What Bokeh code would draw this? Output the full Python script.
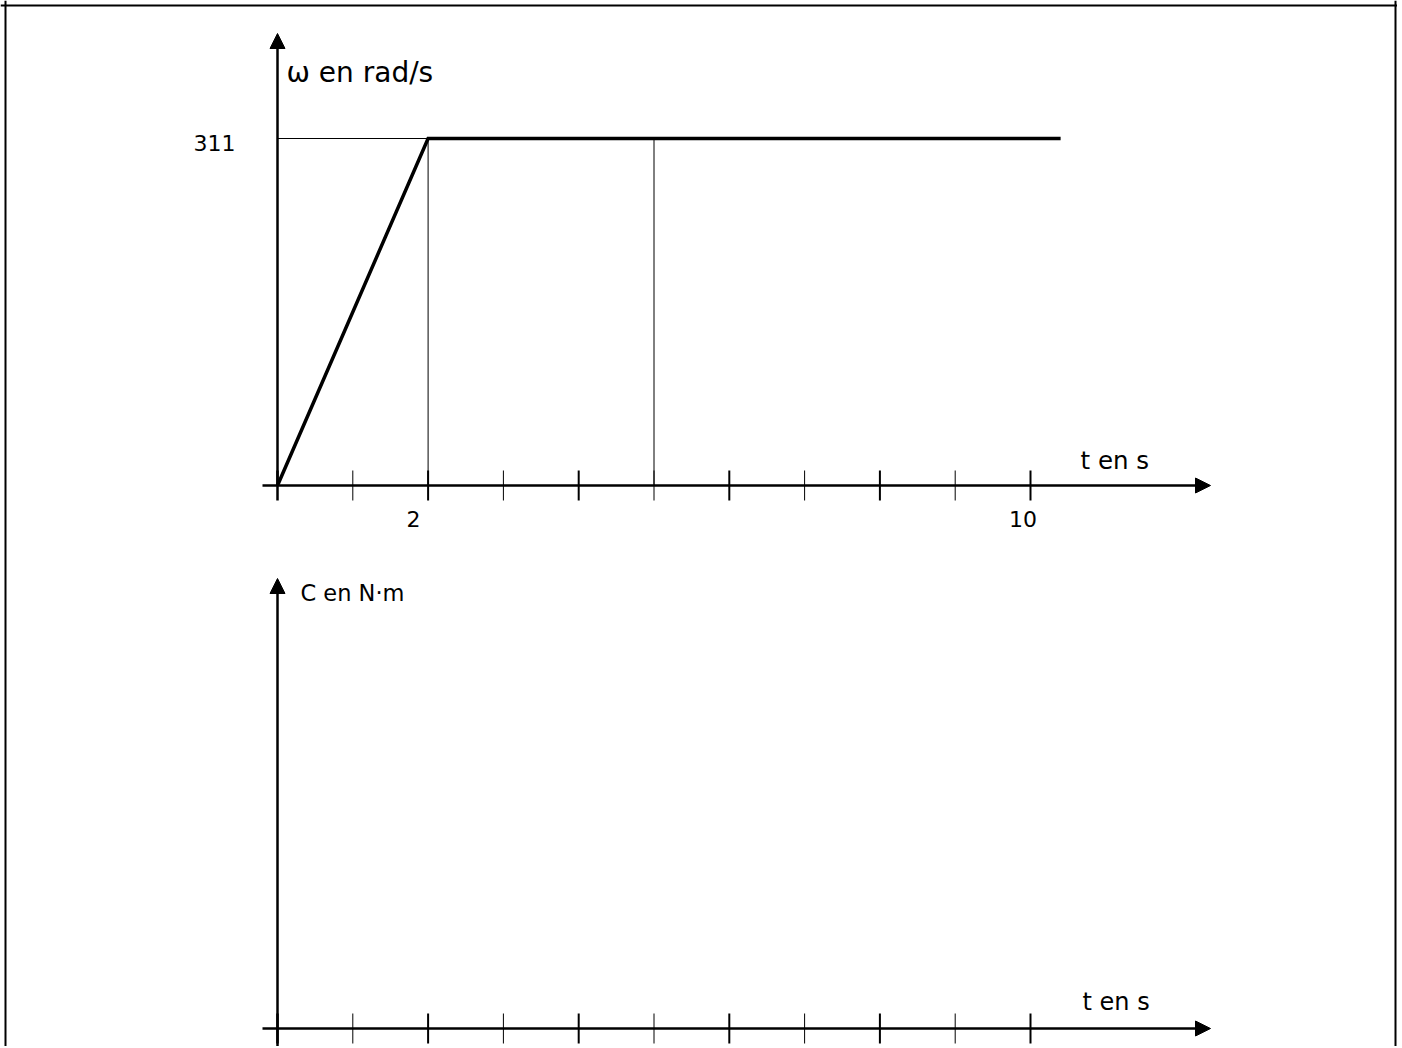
from bokeh.plotting import figure
from bokeh.models import Range1d, Arrow, NormalHead, Span
from bokeh.core.properties import value
from bokeh.embed import file_html
from bokeh.resources import INLINE

# ---------------- data ----------------
t_curve = [0, 2, 10.4]          # s
omega_curve = [0, 311, 311]     # rad/s
t_ticks = [0, 1, 2, 3, 4, 5, 6, 7, 8, 9, 10]
t_label_pos = [2, 10]
t_label_text = ["2", "10"]
omega_label_pos = [311]
omega_label_text = ["311"]
guide_t = [2, 5]                # thin vertical reference lines
t_axis_title = "t en s"
omega_axis_title = "ω en rad/s"
torque_axis_title = "C en N·m"

# ---------------- layout (page pixels) ----------------
W, H = 1397, 1046
M = 0
X0 = 277.0            # page x of t = 0
SX = 75.3             # px per second
Y0_TOP = 485.0        # page y of omega = 0
SY = 347.0 / 311.0    # px per rad/s
Y0_BOT = 1028.0       # page y of C = 0 (1 unit = 1 px)

def tx(px):
    return (px - X0) / SX

def wy(py):
    return (Y0_TOP - py) / SY

def cy(py):
    return Y0_BOT - py

FONT = value("DejaVu Sans")

p = figure(width=W, height=H,
           x_range=Range1d(tx(M), tx(M + W)),
           y_range=Range1d(wy(M + H), wy(M)),
           output_backend="svg", toolbar_location=None, tools="",
           min_border=0, x_axis_location=None, y_axis_location=None,
           outline_line_color=None, background_fill_color="white",
           border_fill_color="white")
p.extra_y_ranges = {"c": Range1d(cy(M + H), cy(M))}
p.xgrid.visible = False
p.ygrid.visible = False

# frame of the page (left, right, top)
p.add_layout(Span(location=tx(5), dimension="height", line_color="black", line_width=2))
p.add_layout(Span(location=tx(1395), dimension="height", line_color="black", line_width=2))
p.add_layout(Span(location=wy(5), dimension="width", line_color="black", line_width=2))

# ---------------- top chart: omega(t) ----------------
# thin guide lines
p.segment(x0=[0], y0=[omega_curve[1]], x1=[t_curve[1]], y1=[omega_curve[1]],
          line_color="black", line_width=1)
p.segment(x0=guide_t, y0=[0] * len(guide_t), x1=guide_t, y1=[omega_curve[1]] * len(guide_t),
          line_color="black", line_width=1)

# ticks
tick_w = [2.5 if t == 0 else (2 if t % 2 == 0 else 1) for t in t_ticks]
hw = 15 / SY
p.segment(x0=t_ticks, y0=[-hw] * len(t_ticks), x1=t_ticks, y1=[hw] * len(t_ticks),
          line_color="black", line_width=tick_w)

# axes with arrows
p.add_layout(Arrow(x_start=tx(262), y_start=0, x_end=tx(1210), y_end=0,
                   line_color="black", line_width=2.5,
                   end=NormalHead(size=15, fill_color="black", line_color="black", line_width=1)))
p.add_layout(Arrow(x_start=0, y_start=0, x_end=0, y_end=wy(33),
                   line_color="black", line_width=2.5,
                   end=NormalHead(size=15, fill_color="black", line_color="black", line_width=1)))

# curve
p.line(t_curve, omega_curve, line_color="black", line_width=3.5, line_join="miter")

# labels
p.text(x=t_label_pos, y=[0] * len(t_label_pos), text=t_label_text,
       text_font=FONT, text_font_size="22px", text_align="left",
       text_baseline="middle", x_offset=-21.5, y_offset=33, text_color="black")
p.text(x=[0] * len(omega_label_pos), y=omega_label_pos, text=omega_label_text,
       text_font=FONT, text_font_size="22px", text_align="right",
       text_baseline="middle", x_offset=-42, y_offset=4, text_color="black")
p.text(x=[tx(286)], y=[wy(72)], text=[omega_axis_title],
       text_font=FONT, text_font_size="28px", text_align="left",
       text_baseline="middle", text_color="black")
p.text(x=[tx(1080)], y=[0], text=[t_axis_title],
       text_font=FONT, text_font_size="24.5px", text_align="left",
       text_baseline="middle", y_offset=-25, text_color="black")

# ---------------- bottom chart: C(t) ----------------
hc = 15
p.segment(x0=t_ticks, y0=[-hc] * len(t_ticks), x1=t_ticks, y1=[hc] * len(t_ticks),
          line_color="black", line_width=tick_w, y_range_name="c")
p.add_layout(Arrow(x_start=tx(262), y_start=0, x_end=tx(1210), y_end=0,
                   line_color="black", line_width=2.5, y_range_name="c",
                   end=NormalHead(size=15, fill_color="black", line_color="black", line_width=1)))
p.add_layout(Arrow(x_start=0, y_start=cy(1050), x_end=0, y_end=cy(578),
                   line_color="black", line_width=2.5, y_range_name="c",
                   end=NormalHead(size=15, fill_color="black", line_color="black", line_width=1)))
p.text(x=[tx(300)], y=[cy(592)], text=[torque_axis_title],
       text_font=FONT, text_font_size="22.5px", text_align="left",
       text_baseline="middle", text_color="black", y_range_name="c")
p.text(x=[tx(1082)], y=[0], text=[t_axis_title],
       text_font=FONT, text_font_size="24px", text_align="left",
       text_baseline="middle", y_offset=-27, text_color="black", y_range_name="c")

open("out.html", "w").write(file_html(p, INLINE))
